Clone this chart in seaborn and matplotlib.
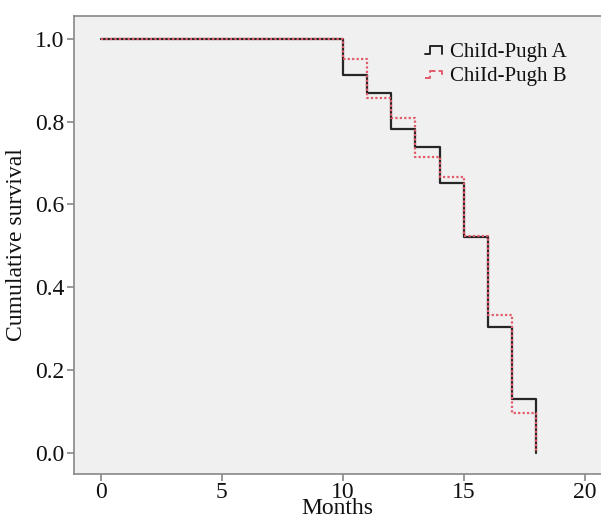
import numpy as np
import pandas as pd
import seaborn as sns
import matplotlib
matplotlib.use('Agg')
import matplotlib.pyplot as plt
from matplotlib.lines import Line2D
from matplotlib.legend_handler import HandlerBase

# survival steps
months = [0, 10, 11, 12, 13, 14, 15, 16, 17, 18]
surv_a = [1.0, 0.913, 0.870, 0.783, 0.739, 0.652, 0.522, 0.304, 0.130, 0.0]
surv_b = [1.0, 0.952, 0.857, 0.810, 0.714, 0.667, 0.524, 0.333, 0.095, 0.0]
group_names = ['ChiId-Pugh A', 'ChiId-Pugh B']
x_ticks = [0, 5, 10, 15, 20]
y_ticks = [0.0, 0.2, 0.4, 0.6, 0.8, 1.0]

sns.set_style('ticks')
plt.rcParams['font.family'] = ['Liberation Serif', 'DejaVu Serif']

df_a = pd.DataFrame({'Months': months, 'surv': surv_a})
df_b = pd.DataFrame({'Months': months, 'surv': surv_b})

fig = plt.figure(figsize=(6.01, 5.18), dpi=100)
ax = fig.add_axes([74 / 601, 44 / 518, 527 / 601, 458 / 518])
ax.set_facecolor('#f0f0f0')

black = '#262626'
red = '#e25a6a'
sns.lineplot(data=df_a, x='Months', y='surv', ax=ax, color=black, lw=1.6,
             drawstyle='steps-post', estimator=None, legend=False)
sns.lineplot(data=df_b, x='Months', y='surv', ax=ax, color=red, lw=1.6,
             linestyle=(0, (1, 1)), drawstyle='steps-post', estimator=None, legend=False)

ax.set_xlim(-1.103, 20.67)
ax.set_ylim(-0.052, 1.056)
ax.set_xticks(x_ticks)
ax.set_yticks(y_ticks)
ax.set_yticklabels([f'{v:.1f}' for v in y_ticks])
ax.tick_params(axis='both', labelsize=17, color='#888888', length=5, width=1.2,
               labelcolor='#111111', pad=2)
ax.tick_params(axis='x', pad=1)
for side in ['left', 'bottom', 'top']:
    ax.spines[side].set_color('#888888')
    ax.spines[side].set_linewidth(1.2)
ax.spines['right'].set_visible(False)

ax.set_xlabel('Months', fontsize=17, labelpad=-4, color='#111111')
ax.set_ylabel('Cumulative survival', fontsize=17, labelpad=6, color='#111111')


# step shaped legend keys
class StepHandler(HandlerBase):
    def create_artists(self, legend, orig_handle, xdescent, ydescent,
                       width, height, fontsize, trans):
        xs = np.array([0, 0.3, 0.3, 1, 1]) * width - xdescent
        ys = np.array([0.2, 0.2, 0.7, 0.7, 0.2]) * height - ydescent
        line = Line2D(xs, ys, color=orig_handle.get_color(),
                      linestyle=orig_handle.get_linestyle(), lw=1.4)
        line.set_transform(trans)
        return [line]


handles = [Line2D([], [], color=black, linestyle='-'),
           Line2D([], [], color=red, linestyle=(0, (1, 1)))]
leg = ax.legend(handles, group_names, loc='upper left',
                bbox_to_anchor=(425 / 601, (518 - 42) / 518),
                bbox_transform=fig.transFigure, frameon=False, fontsize=15,
                handlelength=0.8, handletextpad=0.4, labelspacing=0.25,
                borderpad=0, borderaxespad=0,
                handler_map={Line2D: StepHandler()})
for t in leg.get_texts():
    t.set_color('#111111')

fig.savefig('out.png', dpi=100)
